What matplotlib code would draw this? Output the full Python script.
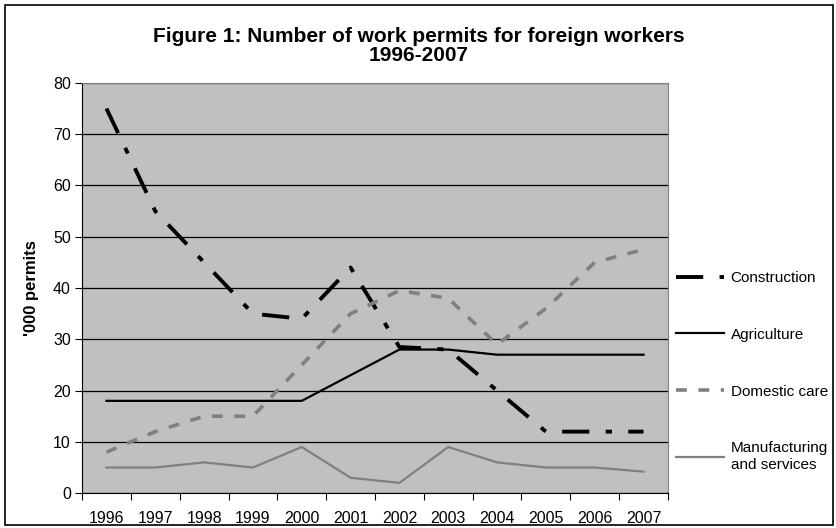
import matplotlib
matplotlib.use("Agg")
import matplotlib.pyplot as plt
from matplotlib.patches import Rectangle
import numpy as np

plt.rcParams["font.family"] = ["Liberation Sans", "DejaVu Sans"]

years = ["1996", "1997", "1998", "1999", "2000", "2001",
         "2002", "2003", "2004", "2005", "2006", "2007"]
construction = [75, 55, 45, 35, 34, 44, 28.5, 28, 20, 12, 12, 12]
agriculture = [18, 18, 18, 18, 18, 23, 28, 28, 27, 27, 27, 27]
domestic_care = [8, 12, 15, 15, 25, 35, 39.5, 38, 29, 36, 45, 47.5]
manufacturing = [5, 5, 6, 5, 9, 3, 2, 9, 6, 5, 5, 4.2]

fig = plt.figure(figsize=(8.37, 5.28), dpi=100)
ax = fig.add_axes([0.098, 0.066, 0.700, 0.777])
ax.set_facecolor("#c0c0c0")

x = np.arange(len(years))
ax.plot(x, construction, color="black", lw=2.8,
        ls=(0, (7.0, 4.2, 1.6, 4.2)), label="Construction")
ax.plot(x, agriculture, color="black", lw=1.6, label="Agriculture")
ax.plot(x, domestic_care, color="#808080", lw=2.6,
        ls=(0, (3.0, 3.2)), label="Domestic care")
ax.plot(x, manufacturing, color="#808080", lw=1.6,
        label="Manufacturing\nand services")

# axes
ax.set_xlim(-0.5, len(years) - 0.5)
ax.set_ylim(0, 80)
ax.set_yticks(range(0, 81, 10))
ax.yaxis.grid(True, color="black", lw=0.9)
ax.set_axisbelow(True)
ax.set_xticks(np.arange(-0.5, len(years), 1))
ax.set_xticklabels([])
ax.set_xticks(x, minor=True)
ax.set_xticklabels(years, minor=True)
ax.tick_params(axis="x", which="major", length=5, direction="out", color="black")
ax.tick_params(axis="x", which="minor", length=0, pad=13, labelsize=11.5)
ax.tick_params(axis="y", length=5, direction="out", labelsize=11.5, pad=3)
for side in ["top", "right"]:
    ax.spines[side].set_color("#808080")
for side in ["left", "bottom"]:
    ax.spines[side].set_color("black")
ax.set_ylabel("'000 permits", fontsize=12, fontweight="bold", labelpad=10)

fig.text(0.5, 0.913, "Figure 1: Number of work permits for foreign workers\n1996-2007",
         ha="center", va="center", fontsize=15, fontweight="bold", linespacing=1.0)

leg = ax.legend(loc="upper left", bbox_to_anchor=(1.0, 0.56), frameon=False,
                fontsize=11, handlelength=3.2, handletextpad=0.4,
                labelspacing=2.8, borderaxespad=0.5, borderpad=0)

# figure border
fig.patches.append(Rectangle((0.006, 0.006), 0.989, 0.985, transform=fig.transFigure,
                             fill=False, edgecolor="black", lw=1.2))

fig.savefig("out.png", dpi=100)
